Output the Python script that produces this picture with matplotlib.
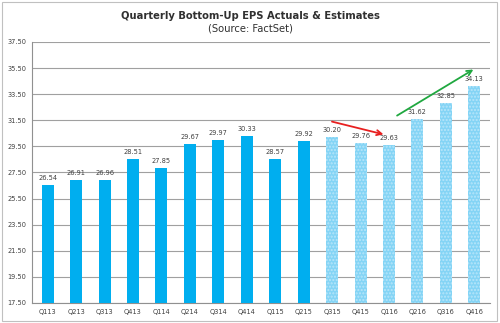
import matplotlib.pyplot as plt
from matplotlib.patches import Rectangle

# quarters and bottom-up EPS values
quarters = ['Q113', 'Q213', 'Q313', 'Q413', 'Q114', 'Q214', 'Q314', 'Q414', 'Q115', 'Q215',
            'Q315', 'Q415', 'Q116', 'Q216', 'Q316', 'Q416']
eps = [26.54, 26.91, 26.96, 28.51, 27.85, 29.67, 29.97, 30.33, 28.57, 29.92,
       30.20, 29.76, 29.63, 31.62, 32.85, 34.13]
n_actual = 10  # first 10 are actuals, rest estimates

yticks = [17.5, 19.5, 21.5, 23.5, 25.5, 27.5, 29.5, 31.5, 33.5, 35.5, 37.5]

# trend arrows (bar index, value)
red_arrow = [(9.9, 31.45), (11.9, 30.37)]
green_arrow = [(12.2, 31.75), (15.05, 35.5)]

fig = plt.figure(figsize=(5, 3.23), dpi=100)
ax = fig.add_axes([0.064, 0.062, 0.916, 0.808])

x = list(range(len(quarters)))
colors = ['#00aeef' if i < n_actual else '#84d4f5' for i in x]
bars = ax.bar(x, eps, width=0.42, color=colors, zorder=3)
for i, b in enumerate(bars):
    if i >= n_actual:
        b.set_hatch('.....')
        b.set_edgecolor('#b8e6fa')
        b.set_linewidth(0)

for i, v in enumerate(eps):
    ax.text(i, v + 0.3, f'{v:.2f}', ha='center', va='bottom', fontsize=4.8, color='#404040', zorder=4)

ax.set_ylim(17.5, 37.5)
ax.set_xlim(-0.55, len(quarters) - 0.45)
ax.set_yticks(yticks)
ax.set_yticklabels([f'{t:.2f}' for t in yticks], fontsize=4.8, color='#404040')
ax.set_xticks(x)
ax.set_xticklabels(quarters, fontsize=4.8, color='#404040')
ax.tick_params(length=0, pad=4)
ax.grid(axis='y', color='#a0a0a0', linewidth=0.8, zorder=0)
for s in ['top', 'right']:
    ax.spines[s].set_visible(False)
for s in ['left', 'bottom']:
    ax.spines[s].set_color('#909090')
    ax.spines[s].set_linewidth(0.8)

ax.annotate('', xy=red_arrow[1], xytext=red_arrow[0],
            arrowprops=dict(arrowstyle='->', color='#e82020', lw=1.3, mutation_scale=9), zorder=5)
ax.annotate('', xy=green_arrow[1], xytext=green_arrow[0],
            arrowprops=dict(arrowstyle='->', color='#20a840', lw=1.3, mutation_scale=9), zorder=5)

fig.text(0.5, 0.952, 'Quarterly Bottom-Up EPS Actuals & Estimates', ha='center', va='center',
         fontsize=7.2, fontweight='bold', color='#303030')
fig.text(0.5, 0.912, '(Source: FactSet)', ha='center', va='center', fontsize=7.2, color='#303030')

fig.patches.append(Rectangle((0.004, 0.006), 0.99, 0.988, transform=fig.transFigure,
                             fill=False, edgecolor='#c0c0c0', linewidth=0.8))

fig.savefig('out.png', dpi=100)
